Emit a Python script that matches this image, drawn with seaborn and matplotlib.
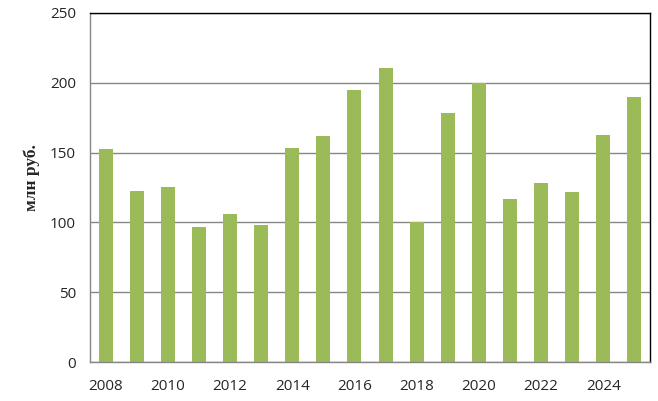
import pandas as pd
import seaborn as sns
import matplotlib
matplotlib.use('Agg')
import matplotlib.pyplot as plt

years = [str(y) for y in range(2008, 2026)]
values = [152.5, 122.7, 125.5, 96.9, 106.2, 98.3, 153.5, 162.0, 195.0,
          210.7, 100.5, 178.5, 200.2, 116.9, 128.4, 122.0, 162.8, 190.0]
y_ticks = [0, 50, 100, 150, 200, 250]

df = pd.DataFrame({'year': years, 'value': values})

sns.set_style('white')
plt.rcParams['font.family'] = ['Open Sans', 'DejaVu Sans']

fig = plt.figure(figsize=(6.58, 4.01), dpi=100)
ax = fig.add_axes([90 / 658, 39 / 401, 560 / 658, 349 / 401])
ax.set_axisbelow(True)

sns.barplot(data=df, x='year', y='value', color='#9BBB59', width=0.45,
            saturation=1, linewidth=0, ax=ax)

grid_c = '#868686'
ax.set_ylim(0, 250)
ax.set_yticks(y_ticks)
ax.yaxis.grid(True, color=grid_c, linewidth=1)
ax.set_xlim(-0.5, len(years) - 0.5)

# labels on every other year, tick marks on category boundaries
ax.set_xticks(range(0, len(years), 2))
ax.set_xticklabels(years[::2])
ax.set_xticks([i - 0.5 for i in range(len(years) + 1)], minor=True)
ax.tick_params(axis='x', which='major', length=0, pad=12, labelsize=11, labelcolor='#262626')
ax.tick_params(axis='x', which='minor', length=5, width=1, color=grid_c, direction='out')
ax.tick_params(axis='y', length=4, width=1, color=grid_c, pad=6, labelsize=11, labelcolor='#262626')

for side in ['left', 'bottom']:
    ax.spines[side].set_color(grid_c)
    ax.spines[side].set_linewidth(1)
for side in ['top', 'right']:
    ax.spines[side].set_visible(True)
    ax.spines[side].set_color('black')
    ax.spines[side].set_linewidth(1)

ax.set_xlabel('')
ax.set_ylabel('')
fig.text(32 / 658, 1 - 178 / 401, 'млн руб.', rotation=90, ha='center', va='center',
         family=['Liberation Serif', 'DejaVu Serif'], fontweight='bold', fontsize=12.5)

fig.savefig('out.png', dpi=100)
